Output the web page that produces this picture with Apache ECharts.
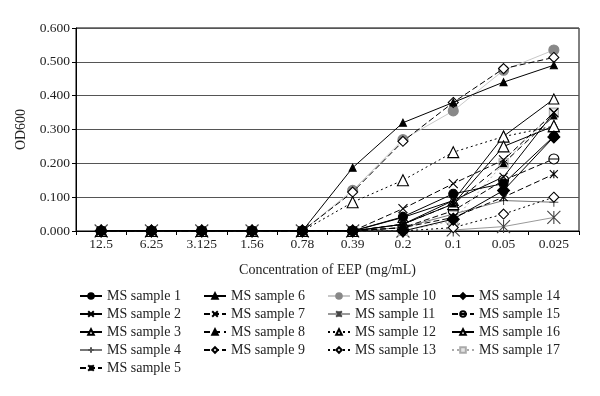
<!DOCTYPE html>
<html>
<head>
<meta charset="utf-8">
<script src="https://cdn.jsdelivr.net/npm/echarts@6/dist/echarts.min.js"></script>
<style>
  html, body { margin: 0; padding: 0; background: #fff; }
  #chart { width: 600px; height: 396px; }
</style>
</head>
<body>
<div id="chart"></div>
<script>
  // concentration of EEP (mg/mL), x categories
  const categories = ['12.5', '6.25', '3.125', '1.56', '0.78', '0.39', '0.2', '0.1', '0.05', '0.025'];
  const yTicks = [0, 0.1, 0.2, 0.3, 0.4, 0.5, 0.6];

  // OD600 per sample
  const sample1  = [0, 0, 0, 0, 0, 0,     0.042, 0.110, 0.140, 0.280];
  const sample2  = [0, 0, 0, 0, 0, 0,     0.020, 0.090, 0.160, 0.350];
  const sample3  = [0, 0, 0, 0, 0, 0,     0.040, 0.090, 0.280, 0.390];
  const sample4  = [0, 0, 0, 0, 0, 0,     0.010, 0.050, 0.090, 0.085];
  const sample5  = [0, 0, 0, 0, 0, 0,     0.010, 0.040, 0.100, 0.168];
  const sample6  = [0, 0, 0, 0, 0, 0.187, 0.320, 0.380, 0.440, 0.490];
  const sample7  = [0, 0, 0, 0, 0, 0,     0.066, 0.140, 0.210, 0.350];
  const sample8  = [0, 0, 0, 0, 0, 0,     0.020, 0.080, 0.200, 0.340];
  const sample9  = [0, 0, 0, 0, 0, 0.115, 0.265, 0.380, 0.480, 0.513];
  const sample10 = [0, 0, 0, 0, 0, 0.120, 0.270, 0.355, 0.475, 0.535];
  const sample11 = [0, 0, 0, 0, 0, 0,     0,     0.003, 0.013, 0.040];
  const sample12 = [0, 0, 0, 0, 0, 0.085, 0.150, 0.233, 0.279, 0.310];
  const sample13 = [0, 0, 0, 0, 0, 0,     0,     0.010, 0.050, 0.100];
  const sample14 = [0, 0, 0, 0, 0, 0,     0,     0.035, 0.120, 0.278];
  const sample15 = [0, 0, 0, 0, 0, 0,     0.010, 0.060, 0.150, 0.213];
  const sample16 = [0, 0, 0, 0, 0, 0,     0.020, 0.080, 0.250, 0.310];
  const sample17 = [0, 0, 0, 0, 0, 0,     0,     0.030, 0.200, 0.350];

  const names = [];
  for (let i = 1; i <= 17; i++) names.push('MS sample ' + i);
  const values = [sample1, sample2, sample3, sample4, sample5, sample6, sample7, sample8, sample9,
    sample10, sample11, sample12, sample13, sample14, sample15, sample16, sample17];

  // marker shapes
  const X = 'path://M0,0L10,10M10,0L0,10';
  const PLUS = 'path://M0,5L10,5M5,0L5,10';
  const STAR = 'path://M0,0L10,10M10,0L0,10M5,0L5,10';
  const CIRCLE_MINUS = 'path://M0,5A5,5,0,1,1,10,5A5,5,0,1,1,0,5ZM0,5L10,5';

  // line type, line colour, symbol, size, fill, stroke, layer
  const looks = [
    ['solid',  '#000', 'circle',   9,  '#000', '#000', 5],
    ['solid',  '#000', X,          8,  'none', '#000', 4],
    ['solid',  '#000', 'triangle', 10, '#fff', '#000', 3],
    ['solid',  '#777', PLUS,       9,  'none', '#555', 2],
    [[6, 3],   '#000', STAR,       8,  'none', '#000', 6],
    ['solid',  '#000', 'triangle', 7,  '#000', '#000', 5],
    [[6, 3],   '#000', X,          9,  'none', '#000', 4],
    [[6, 4],   '#000', 'triangle', 6,  '#000', '#000', 5],
    [[6, 3],   '#000', 'diamond',  10, '#fff', '#000', 3],
    ['solid',  '#c8c8c8', 'circle', 10, '#888', '#888', 1],
    ['solid',  '#999', STAR,       13, 'none', '#444', 1],
    [[2, 3],   '#000', 'triangle', 11, '#fff', '#000', 3],
    [[2, 3],   '#000', 'diamond',  10, '#fff', '#000', 3],
    ['solid',  '#000', 'diamond',  12, '#000', '#000', 5],
    [[6, 3],   '#000', CIRCLE_MINUS, 10, '#fff', '#000', 3],
    ['solid',  '#000', 'triangle', 11, '#fff', '#000', 3],
    [[2, 3],   '#aaa', 'rect',     9,  '#e4e4e4', '#aaa', 1]
  ];

  const series = names.map((name, i) => {
    const lk = looks[i];
    return {
      name: name,
      type: 'line',
      data: values[i],
      symbol: lk[2],
      symbolSize: lk[3],
      showAllSymbol: true,
      lineStyle: { type: lk[0], color: lk[1], width: 1 },
      itemStyle: { color: lk[4], borderColor: lk[5], borderWidth: 1.1 },
      emphasis: { disabled: true },
      z: lk[6] + 1
    };
  });

  const serif = 'Liberation Serif';
  const legendBase = {
    orient: 'vertical',
    top: 284,
    itemWidth: 22,
    itemHeight: 7,
    itemGap: 4,
    selectedMode: false,
    textStyle: { fontFamily: serif, fontSize: 14, color: '#222', lineHeight: 14 }
  };

  let chart = echarts.init(document.getElementById('chart'));
  let option = {
    animation: false,
    backgroundColor: '#fff',
    grid: { left: 76, right: 21, top: 28, bottom: 165, show: true, borderColor: '#000', borderWidth: 1 },
    legend: [
      Object.assign({}, legendBase, { left: 74,  data: names.slice(0, 5) }),
      Object.assign({}, legendBase, { left: 198, data: names.slice(5, 9) }),
      Object.assign({}, legendBase, { left: 322, data: names.slice(9, 13) }),
      Object.assign({}, legendBase, { left: 446, data: names.slice(13, 17) })
    ],
    xAxis: {
      type: 'category',
      data: categories,
      boundaryGap: true,
      name: 'Concentration of EEP (mg/mL)',
      nameLocation: 'middle',
      nameGap: 32,
      nameTextStyle: { fontFamily: serif, fontSize: 14, color: '#222' },
      axisLine: { lineStyle: { color: '#000' } },
      axisTick: { show: true, interval: 0, length: 4, lineStyle: { color: '#000' } },
      axisLabel: { fontFamily: serif, fontSize: 13.5, color: '#222', margin: 6, interval: 0 }
    },
    yAxis: {
      type: 'value',
      min: yTicks[0],
      max: yTicks[yTicks.length - 1],
      interval: 0.1,
      name: 'OD600',
      nameLocation: 'middle',
      nameGap: 43,
      nameTextStyle: { fontFamily: serif, fontSize: 14, color: '#222' },
      axisLine: { show: true, lineStyle: { color: '#000' } },
      axisTick: { show: true, length: 4, lineStyle: { color: '#000' } },
      axisLabel: { fontFamily: serif, fontSize: 13.5, color: '#222', margin: 6,
        formatter: v => v.toFixed(3) },
      splitLine: { show: true, lineStyle: { color: '#555', width: 1 } }
    },
    series: series
  };

  option && chart.setOption(option);
</script>
</body>
</html>
